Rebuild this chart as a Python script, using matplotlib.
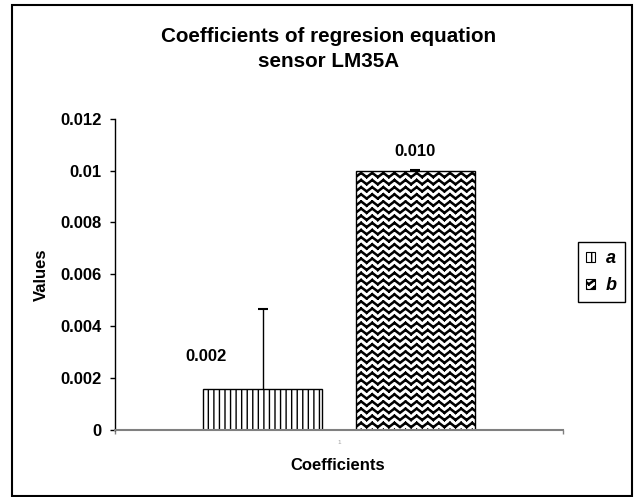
import warnings
warnings.filterwarnings('ignore')
import numpy as np
import matplotlib
matplotlib.use('Agg')
import matplotlib.pyplot as plt
from matplotlib import hatch as mhatch
from matplotlib.patches import Patch, Rectangle
from matplotlib.path import Path

# ---- data ----
series = ['a', 'b']
values = [0.00159, 0.00998]
errors_plus = [0.00308, 0.00003]
value_labels = ['0.002', '0.010']
category_labels = ['1']
yticks = [0, 0.002, 0.004, 0.006, 0.008, 0.010, 0.012]
ytick_labels = ['0', '0.002', '0.004', '0.006', '0.008', '0.01', '0.012']
title = 'Coefficients of regresion equation\nsensor LM35A'
xlabel = 'Coefficients'
ylabel = 'Values'


# ---- custom "weave" hatch (approximation of Excel's pattern) ----
class WeaveHatch(mhatch.HatchPatternBase):
    def __init__(self, hatch, density):
        n = hatch.count('w')
        self.rows = 14 * n
        self.period = 9
        self.strands = (0.1, 0.3)
        self.num_vertices = self.rows * len(self.strands) * (2 * self.period) * 2

    def set_vertices_and_codes(self, vertices, codes):
        pts = 2 * self.period + 1
        xs = np.linspace(0, 1, pts)
        amp = 0.6 / self.rows
        c = 0
        for k in range(self.rows):
            for s in self.strands:
                y0 = (k + s) / self.rows
                ys = y0 + np.where(np.arange(pts) % 2 == 1, amp, 0.0)
                for j in range(pts - 1):
                    vertices[c] = (xs[j], ys[j])
                    vertices[c + 1] = (xs[j + 1], ys[j + 1])
                    codes[c] = Path.MOVETO
                    codes[c + 1] = Path.LINETO
                    c += 2


mhatch._hatch_types.append(WeaveHatch)

plt.rcParams['font.family'] = ['Liberation Sans', 'DejaVu Sans']
plt.rcParams['font.weight'] = 'bold'
plt.rcParams['hatch.linewidth'] = 1.0
plt.rcParams['hatch.color'] = 'black'

W, H = 637, 497
fig = plt.figure(figsize=(W / 100, H / 100), dpi=100)
ax = fig.add_axes([115 / W, 1 - 430 / H, 448 / W, (430 - 118.7) / H])

x = np.arange(len(category_labels))
offsets = [-0.17, 0.17]
hatches = ['|||', 'w']
width = 0.265
label_offsets = [(-41, 23), (0, 14)]

handles = []
for i, s in enumerate(series):
    ax.bar(x + offsets[i], values[i], width, color='white',
           edgecolor='black', linewidth=1, hatch=hatches[i], zorder=2)
    eb = ax.errorbar(x + offsets[i], values[i], yerr=[[0], [errors_plus[i]]],
                     fmt='none', ecolor='black', elinewidth=1, capsize=3.6,
                     capthick=1.5, zorder=3)
    for cap in eb[1]:
        if np.allclose(cap.get_ydata(), values[i]):
            cap.set_visible(False)
    ax.annotate(value_labels[i], (x[0] + offsets[i], values[i]),
                xytext=label_offsets[i], textcoords='offset points',
                ha='center', va='center', fontsize=12, fontweight='bold')
    handles.append(Patch(facecolor='white', edgecolor='black', linewidth=0.8,
                         hatch=hatches[i], label=s))

ax.set_xlim(-0.5, 0.5)
ax.set_ylim(yticks[0], yticks[-1])
ax.set_yticks(yticks)
ax.set_yticklabels(ytick_labels)
ax.tick_params(axis='y', direction='out', length=3.6, width=1, colors='black',
               labelsize=12, pad=6)
ax.set_xticks(x)
ax.set_xticklabels(category_labels, fontsize=4.5, color='#a0a0a0',
                   fontweight='normal')
ax.tick_params(axis='x', which='major', length=0, pad=7)
ax.set_xticks([-0.5, 0.5], minor=True)
ax.tick_params(axis='x', which='minor', length=3, width=1, color='#808080')

for sp in ['top', 'right']:
    ax.spines[sp].set_visible(False)
ax.spines['left'].set_color('black')
ax.spines['left'].set_linewidth(1)
ax.spines['bottom'].set_color('#808080')
ax.spines['bottom'].set_linewidth(1.5)

ax.set_xlabel(xlabel, fontsize=12, fontweight='bold')
ax.xaxis.set_label_coords((338 - 115) / 448, (430 - 466) / 311.3)
ax.xaxis.label.set_va('center')
ax.set_ylabel(ylabel, fontsize=12, fontweight='bold')
ax.yaxis.set_label_coords((41.7 - 115) / 448, 0.5)
ax.yaxis.label.set_va('center')

fig.text(329 / W, 1 - 49 / H, title, ha='center', va='center',
         fontsize=14.9, fontweight='bold', linespacing=1.4,
         multialignment='center')

leg = fig.legend(handles=handles, loc='upper left',
                 bbox_to_anchor=(577.7 / W, 1 - 242 / H),
                 bbox_transform=fig.transFigure, borderaxespad=0,
                 prop={'size': 13, 'weight': 'bold', 'style': 'italic'},
                 handlelength=0.5, handleheight=0.5, handletextpad=0.6,
                 labelspacing=0.55, borderpad=0.45, fancybox=False,
                 framealpha=1, edgecolor='black')
leg.get_frame().set_linewidth(1)

fig.patches.append(Rectangle((12 / W, 1 - 496 / H), (632 - 12) / W,
                             (496 - 5.3) / H, transform=fig.transFigure,
                             fill=False, edgecolor='black', linewidth=1.5))

fig.savefig('out.png', dpi=100, facecolor='white')
